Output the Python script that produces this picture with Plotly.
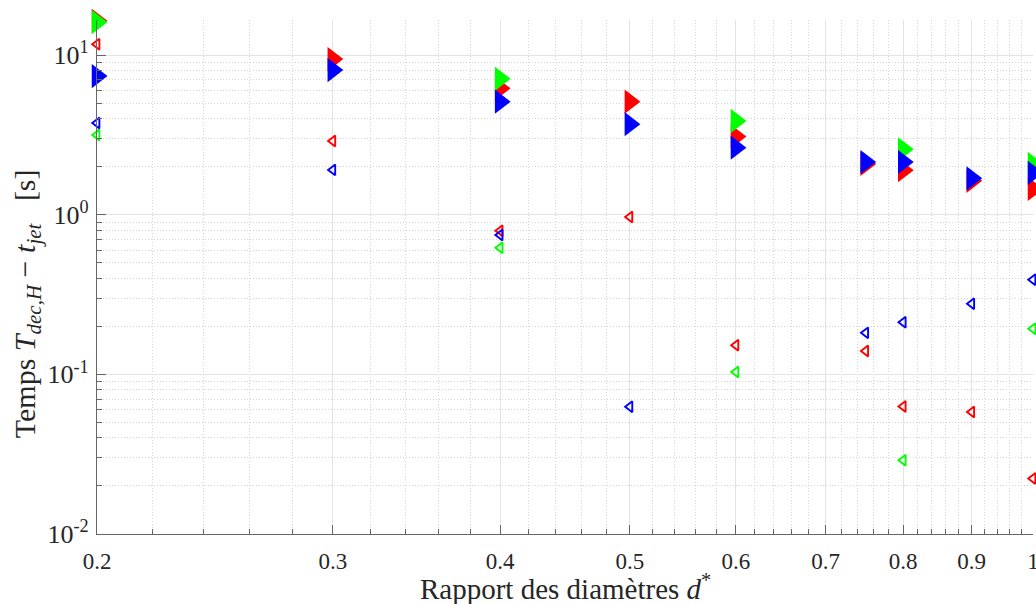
import plotly.graph_objects as go
import numpy as np

# Data
d_star = [0.2, 0.3, 0.4, 0.5, 0.6, 0.75, 0.8, 0.9, 1.0]

red_filled   = [16.4, 9.44, 6.19, 5.11, 3.09, 2.08, 1.90, 1.63, 1.45]
green_filled = [16.1, None, 7.11, None, 3.87, None, 2.57, None, 2.08]
blue_filled  = [7.39, 8.06, 5.11, 3.69, 2.63, 2.14, 2.14, 1.69, 1.83]

red_open   = [11.7, 2.90, 0.794, 0.967, 0.152, 0.140, 0.063, 0.0581, 0.0223]
green_open = [3.16, None, 0.622, None, 0.1034, None, 0.029, None, 0.193]
blue_open  = [3.76, 1.91, 0.746, 0.0627, None, 0.182, 0.212, 0.277, 0.392]

x_tickvals = [0.2, 0.3, 0.4, 0.5, 0.6, 0.7, 0.8, 0.9, 1.0]
x_ticktext = ["0.2", "0.3", "0.4", "0.5", "0.6", "0.7", "0.8", "0.9", "1"]
y_tickvals = [0.01, 0.1, 1, 10]
y_ticktext = ["10<sup>-2</sup>", "10<sup>-1</sup>", "10<sup>0</sup>", "10<sup>1</sup>"]

x_minor = [round(0.2 + 0.02 * i, 2) for i in range(41)]
x_minor = [v for v in x_minor if v not in x_tickvals]
y_minor = [m * 10.0 ** e for e in range(-2, 2) for m in range(2, 10)]

RED, GREEN, BLUE = "#ff0000", "#00ff00", "#0000ff"

fig = go.Figure()
for vals, col in [(red_filled, RED), (green_filled, GREEN), (blue_filled, BLUE)]:
    fig.add_trace(go.Scatter(x=d_star, y=vals, mode="markers", cliponaxis=False,
                             marker=dict(symbol="triangle-right", size=21, color=col,
                                         line=dict(width=0)),
                             showlegend=False))
for vals, col in [(red_open, RED), (green_open, GREEN), (blue_open, BLUE)]:
    fig.add_trace(go.Scatter(x=d_star, y=vals, mode="markers", cliponaxis=False,
                             marker=dict(symbol="triangle-left-open", size=9.5, color=col,
                                         line=dict(width=1.9, color=col)),
                             showlegend=False))

NB = "\u00a0"
font_family = "Liberation Serif"
fig.update_layout(
    width=1036, height=604,
    margin=dict(l=97, r=3, t=20, b=70),
    plot_bgcolor="white", paper_bgcolor="white",
    font=dict(family=font_family, size=20, color="#262626"),
)
fig.update_xaxes(
    type="log", range=[np.log10(0.2), 0.0], automargin=False,
    ticklabeloverflow="allow", ticklabelstandoff=6,
    tickmode="array", tickvals=x_tickvals, ticktext=x_ticktext,
    ticks="inside", ticklen=9, tickcolor="#666666", tickwidth=1,
    showline=True, linecolor="#666666", linewidth=1.2, mirror=False,
    showgrid=True, gridcolor="#e3e3e3", gridwidth=1,
    zeroline=False,
    minor=dict(tickmode="array", tickvals=x_minor, ticks="inside", ticklen=5,
               tickcolor="#666666", showgrid=True, gridcolor="#d4d4d4",
               griddash="1px,2px", gridwidth=1),
    tickfont=dict(size=23),
)
fig.update_yaxes(
    type="log", range=[-2.0, 1.22], automargin=False,
    ticklabeloverflow="allow", ticklabelstandoff=2,
    tickmode="array", tickvals=y_tickvals, ticktext=y_ticktext,
    ticks="inside", ticklen=9, tickcolor="#666666", tickwidth=1,
    showline=True, linecolor="#666666", linewidth=1.2, mirror=False,
    showgrid=True, gridcolor="#e3e3e3", gridwidth=1,
    zeroline=False,
    minor=dict(tickmode="array", tickvals=y_minor, ticks="inside", ticklen=5,
               tickcolor="#666666", showgrid=True, gridcolor="#d4d4d4",
               griddash="1px,2px", gridwidth=1),
    tickfont=dict(size=26),
)
fig.add_annotation(
    text="Rapport des diamètres <i>d</i><sup>*</sup>",
    xref="paper", yref="paper", x=0.5, y=-0.103,
    xanchor="center", yanchor="middle", showarrow=False,
    font=dict(size=29, family=font_family, color="#262626"),
)
fig.add_annotation(
    text=("Temps <i>T</i><sub><i>dec,H</i></sub>" + NB + "−" + NB
          + "<i>t</i><sub><i>jet</i></sub>" + NB * 3 + "[s]"),
    xref="paper", yref="paper", x=-0.0748, y=0.449,
    xanchor="center", yanchor="middle", textangle=-90, showarrow=False,
    font=dict(size=30, family=font_family, color="#262626"),
)

fig.write_html("out.html",
               config={"displayModeBar": False},
               post_script="document.body.style.margin='0';document.body.style.overflow='hidden';")
